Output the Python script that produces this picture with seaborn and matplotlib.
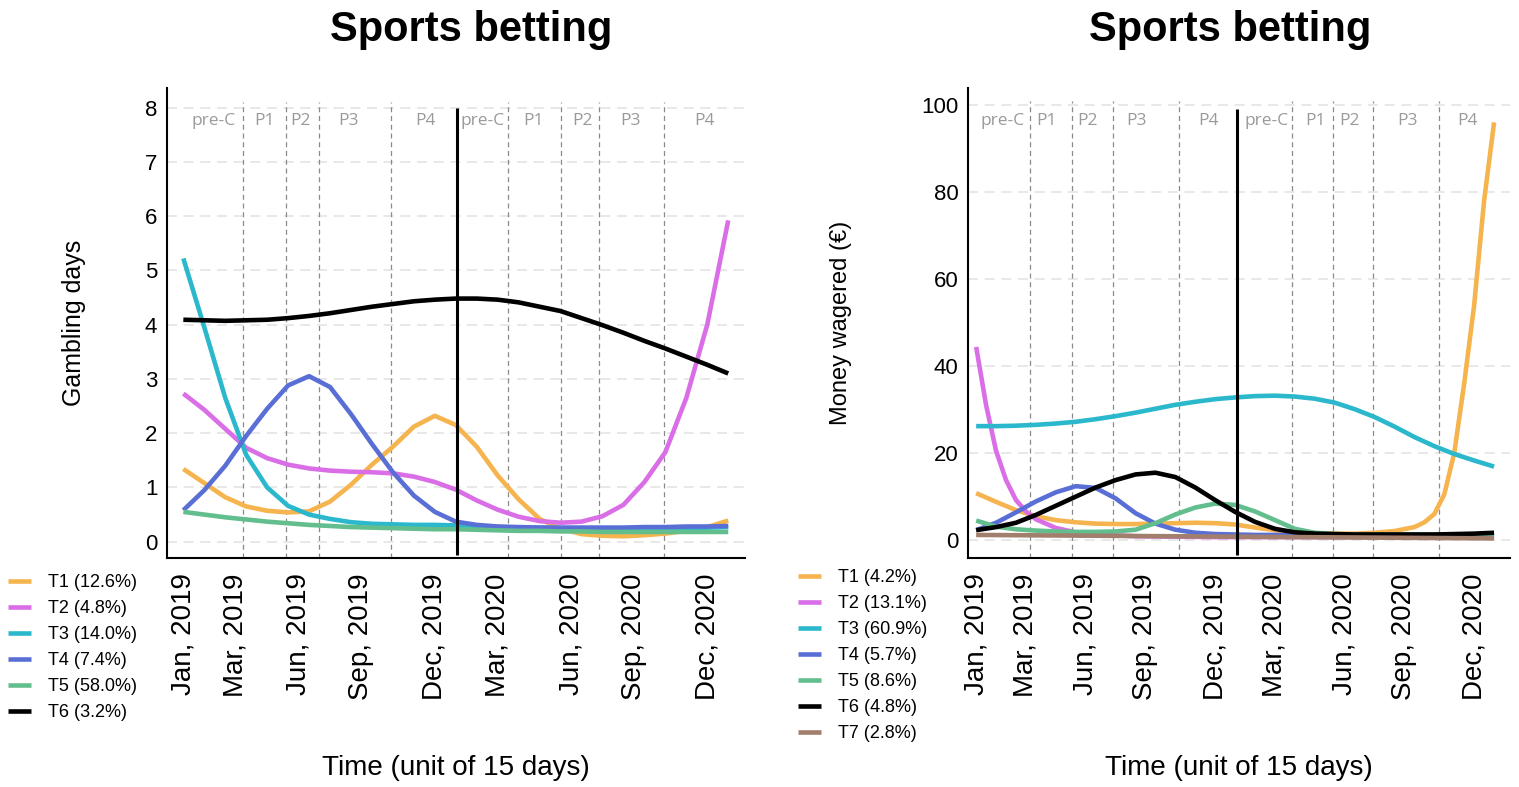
"""
Sports betting trajectories - gambling days and money wagered
Two panels, 15-day time units, Jan 2019 - Dec 2020
"""

import matplotlib
matplotlib.use("Agg")
import matplotlib.pyplot as plt
import seaborn as sns

# ============================================================================
# DATA
# ============================================================================

t_even = list(range(0, 53, 2))
n_units = 53

month_ticks = [0, 5, 11, 17, 24, 30, 37, 43, 50]
month_labels = ["Jan, 2019", "Mar, 2019", "Jun, 2019", "Sep, 2019", "Dec, 2019",
                "Mar, 2020", "Jun, 2020", "Sep, 2020", "Dec, 2020"]
period_names = ["pre-C", "P1", "P2", "P3", "P4", "pre-C", "P1", "P2", "P3", "P4"]

# --- left panel: gambling days ---
days_labels = ["T1 (12.6%)", "T2 (4.8%)", "T3 (14.0%)", "T4 (7.4%)", "T5 (58.0%)", "T6 (3.2%)"]
days_t1 = [1.34, 1.08, 0.82, 0.65, 0.57, 0.54, 0.56, 0.74, 1.05, 1.42, 1.75, 2.12, 2.32, 2.15,
           1.75, 1.22, 0.78, 0.42, 0.24, 0.14, 0.11, 0.10, 0.12, 0.15, 0.20, 0.27, 0.39]
days_t2 = [2.73, 2.43, 2.08, 1.73, 1.54, 1.42, 1.35, 1.31, 1.29, 1.28, 1.26, 1.20, 1.10, 0.96,
           0.76, 0.59, 0.46, 0.38, 0.35, 0.37, 0.47, 0.68, 1.10, 1.65, 2.65, 4.00, 5.92]
days_t3 = [5.22, 3.95, 2.65, 1.60, 1.00, 0.66, 0.50, 0.42, 0.36, 0.33, 0.32, 0.31, 0.31, 0.30,
           0.28, 0.27, 0.26, 0.26, 0.25, 0.25, 0.25, 0.25, 0.25, 0.25, 0.25, 0.26, 0.27]
days_t4 = [0.58, 0.95, 1.40, 1.95, 2.45, 2.88, 3.05, 2.85, 2.35, 1.80, 1.28, 0.85, 0.55, 0.37,
           0.31, 0.28, 0.27, 0.26, 0.26, 0.26, 0.26, 0.26, 0.27, 0.27, 0.28, 0.28, 0.29]
days_t5 = [0.55, 0.50, 0.45, 0.41, 0.37, 0.34, 0.31, 0.29, 0.27, 0.26, 0.25, 0.24, 0.23, 0.23,
           0.22, 0.21, 0.20, 0.20, 0.19, 0.19, 0.18, 0.18, 0.18, 0.18, 0.18, 0.18, 0.18]
days_t6 = [4.09, 4.08, 4.07, 4.08, 4.09, 4.12, 4.16, 4.21, 4.27, 4.33, 4.38, 4.43, 4.46, 4.48,
           4.48, 4.46, 4.41, 4.33, 4.25, 4.12, 3.99, 3.85, 3.70, 3.56, 3.41, 3.26, 3.10]

days_breaks = [5.7, 9.8, 12.9, 19.8, 31.0, 36.0, 39.7, 45.9]
days_covid = 26.1
days_period_mid = [2.9, 7.7, 11.2, 15.8, 23.1, 28.6, 33.4, 38.1, 42.7, 49.7]

# --- right panel: money wagered ---
money_labels = ["T1 (4.2%)", "T2 (13.1%)", "T3 (60.9%)", "T4 (5.7%)", "T5 (8.6%)",
                "T6 (4.8%)", "T7 (2.8%)"]
money_t1_x = t_even[:23] + [45, 46, 47, 48, 49, 50, 51, 52]
money_t1 = [10.8, 8.8, 6.9, 5.5, 4.6, 4.1, 3.8, 3.7, 3.7, 3.8, 3.9, 4.0, 3.9, 3.6, 2.9, 2.3,
            1.8, 1.6, 1.5, 1.5, 1.7, 2.1, 3.0, 4.1, 6.0, 10.5, 20.0, 36.0, 54.0, 78.0, 96.0]
money_t2_x = [0, 1, 2, 3, 4, 5, 6, 8, 10, 12, 14, 16, 20, 24, 28, 32, 36, 40, 44, 48, 52]
money_t2 = [44.4, 31.0, 20.5, 13.8, 9.2, 6.6, 4.8, 2.8, 1.8, 1.3, 1.1, 0.9, 0.8, 0.7, 0.7,
            0.7, 0.7, 0.7, 0.7, 0.7, 0.8]
money_t3 = [26.2, 26.2, 26.3, 26.5, 26.8, 27.2, 27.8, 28.5, 29.3, 30.2, 31.1, 31.8, 32.4, 32.8,
            33.1, 33.2, 33.0, 32.5, 31.6, 30.1, 28.3, 26.1, 23.7, 21.6, 19.8, 18.3, 16.9]
money_t4 = [2.3, 4.0, 6.4, 8.9, 11.0, 12.4, 12.0, 9.6, 6.2, 3.8, 2.4, 1.7, 1.4, 1.3,
            1.2, 1.2, 1.2, 1.2, 1.2, 1.2, 1.2, 1.2, 1.2, 1.2, 1.2, 1.2, 1.3]
money_t5 = [4.5, 3.1, 2.5, 2.2, 2.0, 1.9, 1.9, 2.0, 2.4, 3.9, 5.9, 7.5, 8.4, 8.1,
            6.6, 4.6, 2.6, 1.7, 1.4, 1.3, 1.3, 1.3, 1.3, 1.3, 1.3, 1.3, 1.3]
money_t6 = [2.3, 3.0, 4.0, 5.8, 7.9, 10.0, 12.1, 13.8, 15.1, 15.5, 14.5, 12.1, 9.2, 6.5,
            4.2, 2.6, 1.8, 1.5, 1.4, 1.3, 1.3, 1.3, 1.3, 1.3, 1.4, 1.5, 1.7]
money_t7_x = [0, 13, 26, 39, 52]
money_t7 = [1.2, 1.0, 0.8, 0.6, 0.4]

money_breaks = [5.4, 9.6, 13.7, 20.4, 31.7, 35.8, 39.8, 46.5]
money_covid = 26.2
money_period_mid = [2.7, 7.1, 11.2, 16.1, 23.3, 29.2, 34.1, 37.5, 43.3, 49.3]

colors = ["#F6B44E", "#D96EE6", "#2BB8CC", "#5A6FD6", "#62BE8C", "#000000", "#A27E6C"]


# ============================================================================
# PLOTTING
# ============================================================================

def draw_panel(ax, series, labels, xlim, ylim, yticks, ylabel, ylabel_size, ylabel_pad,
               breaks, covid, period_mid, period_y, line_top, covid_span):
    # light dashed horizontal grid
    for y in yticks:
        ax.axhline(y, color="#e4e4e4", lw=1.2, ls=(0, (6, 4)), zorder=0)

    # period boundaries
    ax.vlines(breaks, ylim[0], line_top, colors="#8a8a8a", lw=0.9,
              linestyles=(0, (4, 3)), zorder=1)
    for name, m in zip(period_names, period_mid):
        ax.text(m, period_y, name, ha="center", va="center", color="#9a9a9a",
                fontsize=12.5, family=["Open Sans", "DejaVu Sans"])

    for (x, y), lab, c in zip(series, labels, colors):
        sns.lineplot(x=x, y=y, color=c, lw=3.3, ax=ax, label=lab, zorder=3,
                     sort=False, solid_capstyle="butt")

    ax.vlines(covid, covid_span[0], covid_span[1], colors="black", lw=2.2, zorder=6)

    handles, labs = ax.get_legend_handles_labels()
    if ax.get_legend() is not None:
        ax.get_legend().remove()

    ax.set_xlim(*xlim)
    ax.set_ylim(*ylim)
    ax.set_xticks(range(n_units))
    tick_text = [""] * n_units
    for pos, lab in zip(month_ticks, month_labels):
        tick_text[pos] = lab
    ax.set_xticklabels(tick_text, rotation=90)
    ax.set_yticks(yticks)
    ax.tick_params(axis="x", length=7, width=1.2, direction="out", labelsize=20,
                   pad=4, color="black", labelcolor="black")
    ax.tick_params(axis="y", length=4, width=1.2, direction="out", labelsize=16,
                   pad=3, color="#555555", labelcolor="black")

    ax.set_xlabel("Time (unit of 15 days)", fontsize=20, labelpad=40, color="black")
    ax.set_ylabel(ylabel, fontsize=ylabel_size, labelpad=ylabel_pad, color="black")

    sns.despine(ax=ax)
    for side in ["left", "bottom"]:
        ax.spines[side].set_linewidth(1.5)
        ax.spines[side].set_color("black")
    return handles, labs


sns.set_theme(style="white")
plt.rcParams["font.family"] = ["Liberation Sans", "DejaVu Sans"]
plt.rcParams["text.color"] = "black"

fig = plt.figure(figsize=(15.19, 7.87), dpi=100)
W, H = 1519, 787
ax1 = fig.add_axes([167 / W, 1 - 558 / H, (745 - 167) / W, (558 - 88) / H])
ax2 = fig.add_axes([968 / W, 1 - 558 / H, (1510 - 968) / W, (558 - 88) / H])

days_series = [(t_even, days_t1), (t_even, days_t2), (t_even, days_t3),
               (t_even, days_t4), (t_even, days_t5), (t_even, days_t6)]
h1, l1 = draw_panel(ax1, days_series, days_labels,
                    xlim=(-1.56, 53.6), ylim=(-0.30, 8.36), yticks=list(range(0, 9)),
                    ylabel="Gambling days", ylabel_size=18, ylabel_pad=42,
                    breaks=days_breaks, covid=days_covid,
                    period_mid=days_period_mid, period_y=7.76, line_top=8.1,
                    covid_span=(-0.25, 8.0))

money_series = [(money_t1_x, money_t1), (money_t2_x, money_t2), (t_even, money_t3),
                (t_even, money_t4), (t_even, money_t5), (t_even, money_t6),
                (money_t7_x, money_t7)]
h2, l2 = draw_panel(ax2, money_series, money_labels,
                    xlim=(-0.82, 53.6), ylim=(-4.1, 103.9), yticks=[0, 20, 40, 60, 80, 100],
                    ylabel="Money wagered (\u20ac)", ylabel_size=17, ylabel_pad=50,
                    breaks=money_breaks, covid=money_covid,
                    period_mid=money_period_mid, period_y=96.3, line_top=101,
                    covid_span=(-3.4, 99.0))

# titles
fig.text(471 / W, 1 - 30 / H, "Sports betting", ha="center", va="center",
         fontsize=30, fontweight="bold")
fig.text(1230 / W, 1 - 30 / H, "Sports betting", ha="center", va="center",
         fontsize=30, fontweight="bold")

# legends below-left of each panel
leg_kw = dict(loc="upper left", frameon=False, fontsize=13, handlelength=1.3,
              handletextpad=0.9, labelspacing=0.5, borderpad=0, borderaxespad=0)
fig.legend(h1, l1, bbox_to_anchor=(8 / W, 1 - 574 / H), **leg_kw)
fig.legend(h2, l2, bbox_to_anchor=(798 / W, 1 - 569 / H), **leg_kw)

plt.savefig("out.png", dpi=100)
plt.close()
